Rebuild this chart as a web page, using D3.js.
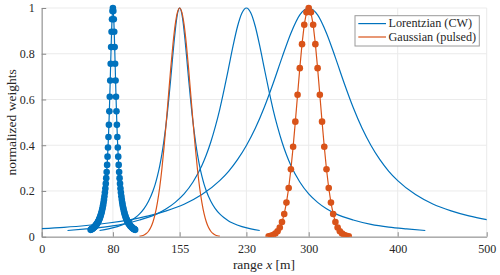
<!DOCTYPE html>
<html>
<head>
<meta charset="utf-8">
<script src="https://cdn.jsdelivr.net/npm/d3@7"></script>
<style>
  body { margin: 0; background: #fff; }
  svg { display: block; }
</style>
</head>
<body>
<div class="chart"></div>
<script>
(function() {
  var
    width = 500,
    height = 275,
    margin = { top: 8, left: 41.7, right: 13.3, bottom: 38.3 },
    font = "Liberation Serif",
    blue = "#0072BD",
    orange = "#D95319";

  // tick labels
  var xTicks = [0, 80, 155, 230, 300, 400, 500];
  var yTicks = [0, 0.2, 0.4, 0.6, 0.8, 1];

  // Lorentzian (CW) peak centres, each one drawn from a half profile (offset from centre -> weight)
  var cwCenters = [80, 155, 230, 300];

  // narrow peak at 80, drawn with markers (offset step 0.5)
  var cw80Offsets = d3.range(0, 25.01, 0.5);
  var cw80Weights = [1, 0.987, 0.951, 0.896, 0.829, 0.756, 0.683, 0.612, 0.548, 0.489,
    0.436, 0.390, 0.350, 0.314, 0.283, 0.256, 0.232, 0.211, 0.193, 0.177,
    0.162, 0.149, 0.138, 0.128, 0.119, 0.110, 0.103, 0.096, 0.090, 0.084,
    0.079, 0.075, 0.070, 0.066, 0.063, 0.059, 0.056, 0.054, 0.051, 0.048,
    0.046, 0.044, 0.042, 0.040, 0.038, 0.037, 0.035, 0.034, 0.033, 0.031, 0.030];

  var cw155Offsets = [0, 2, 4, 6, 8, 10, 12, 14, 16, 18, 20, 22.5, 25, 27.5, 30, 35, 40, 45, 50, 55, 60, 70, 80, 90];
  var cw155Weights = [1, 0.983, 0.934, 0.862, 0.779, 0.692, 0.610, 0.534, 0.468, 0.410, 0.360, 0.308,
    0.265, 0.229, 0.200, 0.155, 0.123, 0.100, 0.083, 0.069, 0.059, 0.044, 0.034, 0.027];

  var cw230Offsets = [0, 5, 10, 15, 20, 25, 30, 35, 40, 45, 50, 60, 70, 80, 90, 100, 120, 140, 160, 180, 201];
  var cw230Weights = [1, 0.978, 0.919, 0.834, 0.738, 0.644, 0.556, 0.480, 0.414, 0.358, 0.311,
    0.239, 0.187, 0.150, 0.122, 0.101, 0.073, 0.054, 0.042, 0.034, 0.027];

  var cw300Offsets = [0, 10, 20, 30, 40, 50, 60, 70, 80, 90, 100, 120, 140, 160, 180, 200, 225, 250, 275, 300];
  var cw300Weights = [1, 0.970, 0.890, 0.783, 0.670, 0.565, 0.474, 0.399, 0.337, 0.286, 0.245,
    0.184, 0.142, 0.113, 0.091, 0.075, 0.060, 0.049, 0.041, 0.035];

  // Gaussian (pulsed) peaks, offset step 2.5
  var pulsedCenters = [155, 300];
  var pulsedOffsets = d3.range(0, 45.01, 2.5);
  var pulsedWeights = [1, 0.981, 0.927, 0.842, 0.737, 0.621, 0.503, 0.393, 0.295, 0.213,
    0.149, 0.0995, 0.0641, 0.0398, 0.0238, 0.0137, 0.0076, 0.0040, 0.0021];

  var legendLabels = ["Lorentzian (CW)", "Gaussian (pulsed)"];

  function mirror(center, offsets, weights) {
    var pts = [];
    for (var i = offsets.length - 1; i > 0; i--) pts.push([center - offsets[i], weights[i]]);
    for (var j = 0; j < offsets.length; j++) pts.push([center + offsets[j], weights[j]]);
    return pts;
  }

  var svg = d3.select(".chart").append("svg")
    .attr("width", width)
    .attr("height", height);

  var x = d3.scaleLinear().domain([0, 500]).range([margin.left, width - margin.right]);
  var y = d3.scaleLinear().domain([0, 1]).range([height - margin.bottom, margin.top]);

  // grid
  svg.append("g").selectAll("line")
    .data(xTicks).enter().append("line")
      .attr("x1", function(d) { return x(d); })
      .attr("x2", function(d) { return x(d); })
      .attr("y1", y(0)).attr("y2", y(1))
      .attr("stroke", "#ebebeb").attr("stroke-width", 1);
  svg.append("g").selectAll("line")
    .data(yTicks).enter().append("line")
      .attr("x1", x(0)).attr("x2", x(500))
      .attr("y1", function(d) { return y(d); })
      .attr("y2", function(d) { return y(d); })
      .attr("stroke", "#ebebeb").attr("stroke-width", 1);

  // axes
  var xAxis = d3.axisBottom(x).tickValues(xTicks).tickSizeInner(-4.5).tickSizeOuter(0)
    .tickPadding(8).tickFormat(d3.format("d"));
  var yAxis = d3.axisLeft(y).tickValues(yTicks).tickSizeInner(-4.5).tickSizeOuter(0)
    .tickPadding(7).tickFormat(function(d) { return d === 0 || d === 1 ? d : d3.format(".1f")(d); });

  var gx = svg.append("g").attr("transform", "translate(0," + y(0) + ")").call(xAxis);
  var gy = svg.append("g").attr("transform", "translate(" + x(0) + ",0)").call(yAxis);
  [gx, gy].forEach(function(g) {
    g.attr("font-family", font).attr("font-size", 12);
    g.selectAll(".domain").attr("stroke", "#8a8a8a").attr("stroke-width", 1);
    g.selectAll(".tick line").attr("stroke", "#8a8a8a");
    g.selectAll(".tick text").attr("fill", "#262626").attr("font-family", font).attr("font-size", 12);
  });

  // clip to the plot box
  svg.append("clipPath").attr("id", "plotclip").append("rect")
    .attr("x", x(0)).attr("y", y(1) - 6)
    .attr("width", x(500) - x(0)).attr("height", y(0) - y(1) + 6);

  var plot = svg.append("g").attr("clip-path", "url(#plotclip)");

  var smooth = d3.line()
    .x(function(d) { return x(d[0]); })
    .y(function(d) { return y(d[1]); })
    .curve(d3.curveMonotoneX);
  var straight = d3.line()
    .x(function(d) { return x(d[0]); })
    .y(function(d) { return y(d[1]); });

  var cw80 = mirror(cwCenters[0], cw80Offsets, cw80Weights);
  var cwLines = [
    mirror(cwCenters[1], cw155Offsets, cw155Weights),
    mirror(cwCenters[2], cw230Offsets, cw230Weights),
    mirror(cwCenters[3], cw300Offsets, cw300Weights)
  ];
  var pulsed155 = mirror(pulsedCenters[0], pulsedOffsets, pulsedWeights);
  var pulsed300 = mirror(pulsedCenters[1], pulsedOffsets, pulsedWeights);

  // Lorentzian
  plot.append("path").datum(cw80).attr("d", straight)
    .attr("fill", "none").attr("stroke", blue).attr("stroke-width", 1.2);
  plot.append("g").selectAll("circle")
    .data(cw80).enter().append("circle")
      .attr("cx", function(d) { return x(d[0]); })
      .attr("cy", function(d) { return y(d[1]); })
      .attr("r", 3.3).attr("fill", blue);
  plot.selectAll("path.cw").data(cwLines).enter().append("path")
    .attr("class", "cw").attr("d", smooth)
    .attr("fill", "none").attr("stroke", blue).attr("stroke-width", 1.2);

  // Gaussian
  plot.append("path").datum(pulsed155).attr("d", smooth)
    .attr("fill", "none").attr("stroke", orange).attr("stroke-width", 1.2);
  plot.append("path").datum(pulsed300).attr("d", straight)
    .attr("fill", "none").attr("stroke", orange).attr("stroke-width", 1.2);
  plot.append("g").selectAll("circle")
    .data(pulsed300).enter().append("circle")
      .attr("cx", function(d) { return x(d[0]); })
      .attr("cy", function(d) { return y(d[1]); })
      .attr("r", 3.3).attr("fill", orange);

  // axis labels
  var xl = svg.append("text")
    .attr("x", 264).attr("y", 268.5)
    .attr("text-anchor", "middle")
    .attr("font-family", font).attr("font-size", 13.5).attr("fill", "#262626");
  xl.append("tspan").text("range ");
  xl.append("tspan").attr("font-style", "italic").text("x");
  xl.append("tspan").text(" [m]");

  svg.append("text")
    .attr("transform", "translate(16," + ((y(0) + y(1)) / 2) + ") rotate(-90)")
    .attr("text-anchor", "middle")
    .attr("font-family", font).attr("font-size", 13.5).attr("fill", "#262626")
    .text("normalized weights");

  // legend
  var legendColors = [blue, orange];
  var lg = svg.append("g");
  lg.append("rect")
    .attr("x", 355).attr("y", 15.7).attr("width", 124.3).attr("height", 30.3)
    .attr("fill", "#fff").attr("stroke", "#9a9a9a").attr("stroke-width", 1);
  var rows = lg.selectAll("g").data(legendLabels).enter().append("g")
    .attr("transform", function(d, i) { return "translate(0," + (23.6 + i * 13.4) + ")"; });
  rows.append("line")
    .attr("x1", 358.3).attr("x2", 386).attr("y1", 0).attr("y2", 0)
    .attr("stroke", function(d, i) { return legendColors[i]; }).attr("stroke-width", 1.2);
  rows.append("text")
    .attr("x", 388.5).attr("y", 3.8)
    .attr("font-family", font).attr("font-size", 12.2).attr("fill", "#262626")
    .text(function(d) { return d; });
})();
</script>
</body>
</html>
